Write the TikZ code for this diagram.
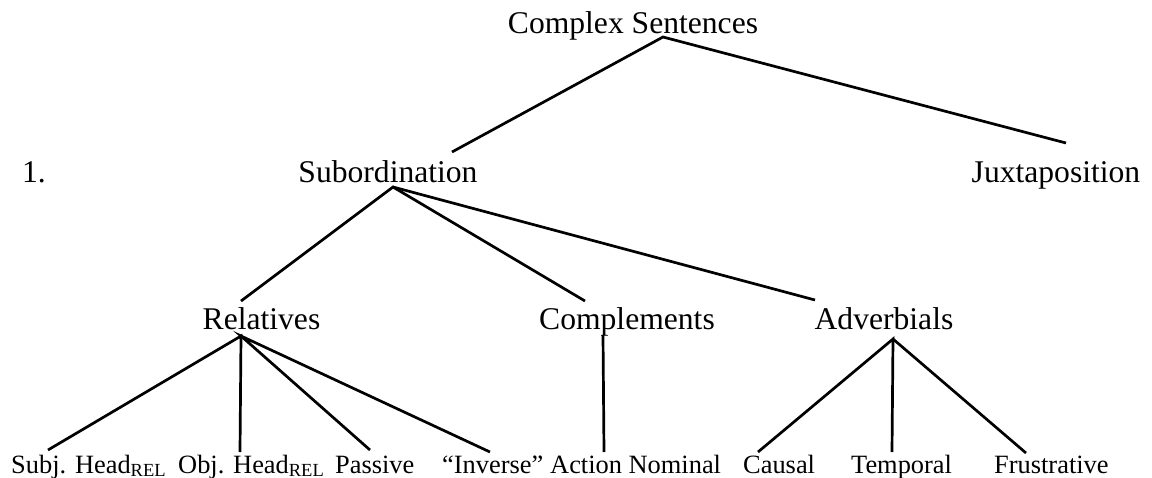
\documentclass[tikz,border=0pt]{standalone}
\usepackage{fontspec}
\setmainfont{Liberation Serif}
\begin{document}
\begin{tikzpicture}[x=1pt,y=-1pt,
  big/.style={inner sep=0pt,anchor=base,font=\fontsize{31.6}{36}\selectfont},
  small/.style={inner sep=0pt,anchor=base west,font=\fontsize{26.4}{30}\selectfont},
  edge/.style={line width=2.7pt,line cap=butt}]
\useasboundingbox (0,0) rectangle (1152,477);
% nodes
\node[big] (cs) at (633,33) {Complex Sentences};
\node[big,anchor=base west] (one) at (22,182) {1.};
\node[big] (sub) at (388,182) {Subordination};
\node[big] (jux) at (1056,182) {Juxtaposition};
\node[big] (rel) at (261.5,329) {Relatives};
\node[big] (comp) at (627,329) {Complements};
\node[big] (adv) at (884,329) {Adverbials};
\node[small] (subj) at (11,473) {Subj. Head\textsubscript{REL}};
\node[small] (obj) at (178,473) {Obj. Head\textsubscript{REL}};
\node[small] (pass) at (335,473) {Passive};
\node[small] (inv) at (442,473) {“Inverse”};
\node[small] (act) at (550,473) {Action Nominal};
\node[small] (caus) at (743,473) {Causal};
\node[small] (temp) at (851,473) {Temporal};
\node[small] (frus) at (994,473) {Frustrative};
% connector end points
\coordinate (csA) at (663,37);
\coordinate (subT) at (452,152);
\coordinate (juxT) at (1066,143);
\coordinate (subA) at (393,187);
\coordinate (relT) at (241,301);
\coordinate (compT) at (585,301);
\coordinate (advT) at (815,300);
\coordinate (relA) at (241,336);
\coordinate (subjT) at (48,450);
\coordinate (objT) at (240,452);
\coordinate (passT) at (370,450);
\coordinate (invT) at (490,452);
\coordinate (compA) at (603,335);
\coordinate (actT) at (604,452);
\coordinate (advA) at (893,339);
\coordinate (causT) at (758,452);
\coordinate (tempT) at (892,452);
\coordinate (frusT) at (1026,453);
% connectors
\draw[edge] (subT) -- (csA) -- (juxT);
\draw[edge] (relT) -- (subA) -- (compT);
\draw[edge] (subA) -- (advT);
\draw[edge] (subjT) -- (relA) -- (objT);
\draw[edge] (passT) -- (relA) -- (invT);
\draw[edge] (compA) -- (actT);
\draw[edge] (causT) -- (advA) -- (tempT);
\draw[edge] (advA) -- (frusT);
\end{tikzpicture}
\end{document}
